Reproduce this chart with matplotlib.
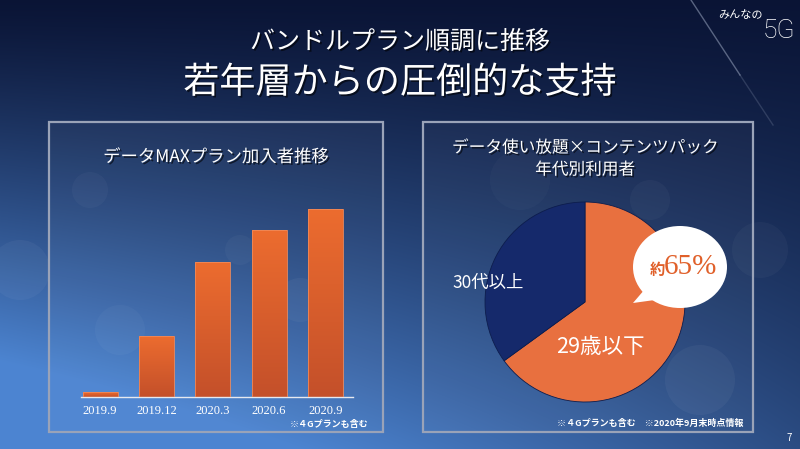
import numpy as np
import matplotlib
matplotlib.use("Agg")
import matplotlib.pyplot as plt
import matplotlib.patheffects as pe
from matplotlib.colors import LinearSegmentedColormap
from matplotlib.patches import Rectangle, Ellipse, Polygon, Circle

plt.rcParams['font.family'] = ['Noto Sans CJK JP', 'DejaVu Sans']

# data
periods = ["2019.9", "2019.12", "2020.3", "2020.6", "2020.9"]
subscribers = [5, 61, 135, 167, 188]          # relative heights, no axis in the source
age_groups = ["29歳以下", "30代以上"]
age_share = [65, 35]

headline1 = "バンドルプラン順調に推移"
headline2 = "若年層からの圧倒的な支持"
bar_title = "データMAXプラン加入者推移"
pie_title1 = "データ使い放題×コンテンツパック"
pie_title2 = "年代別利用者"
note_left = "※４Gプランも含む"
note_right = "※４Gプランも含む　※2020年9月末時点情報"

W, H = 800, 449
fig = plt.figure(figsize=(8, 4.49), dpi=100)

# background in pixel coordinates
bg = fig.add_axes([0, 0, 1, 1])
bg.set_xlim(0, W)
bg.set_ylim(H, 0)
bg.axis('off')

yy, xx = np.mgrid[0:H, 0:W]
t = yy / H
v = np.clip(t ** 1.2 * (0.5 + 0.8 * (1 - xx / W)), 0, 1)
dark = np.array([0.04, 0.08, 0.21])
light = np.array([0.30, 0.52, 0.82])
img = dark + (light - dark) * v[..., None]
bg.imshow(img, extent=[0, W, H, 0], aspect='auto', zorder=0)

# soft bokeh
for cx, cy, r, a in [(20, 270, 30, 0.04), (120, 330, 25, 0.03), (300, 300, 22, 0.04),
                     (240, 250, 15, 0.03), (700, 380, 35, 0.04), (760, 250, 28, 0.03),
                     (90, 190, 18, 0.03), (520, 180, 30, 0.025), (650, 200, 20, 0.03)]:
    bg.add_patch(Circle((cx, cy), r, color='white', alpha=a, lw=0, zorder=1))

# logo
bg.plot([691, 740], [0, 75], color='#8d99b3', lw=1, alpha=0.6, zorder=2)
bg.plot([740, 773], [75, 125], color='#8d99b3', lw=1, alpha=0.25, zorder=2)
bg.text(740, 15, "みんなの", color='white', fontsize=8, ha='center', va='center',
        style='italic', zorder=3)
bg.text(779, 31, "5G", color='white', fontsize=19, ha='center', va='center',
        family=['Roboto', 'DejaVu Sans'], fontweight='light', zorder=3)

shadow = [pe.withSimplePatchShadow(offset=(1.2, -1.2), shadow_rgbFace='black', alpha=0.6)]
bg.text(400, 42, headline1, color='white', fontsize=18, ha='center', va='center',
        path_effects=shadow, zorder=3)
bg.text(400, 83, headline2, color='white', fontsize=26, ha='center', va='center',
        path_effects=shadow, zorder=3)

# panels
for x0, x1 in [(49, 383), (423, 753)]:
    bg.add_patch(Rectangle((x0, 122), x1 - x0, 310, facecolor='white', alpha=0.03,
                           edgecolor='none', zorder=2))
    bg.add_patch(Rectangle((x0, 122), x1 - x0, 310, facecolor='none',
                           edgecolor='#9aa3b8', lw=1.6, zorder=3))

bg.text(216, 157, bar_title, color='white', fontsize=12.5, ha='center', va='center',
        path_effects=shadow, zorder=4)
bg.text(368, 424, note_left, color='white', fontsize=6.5, ha='right', va='center',
        fontweight='bold', zorder=4)

bg.text(585, 148, pie_title1, color='white', fontsize=12, ha='center', va='center',
        path_effects=shadow, zorder=4)
bg.text(585, 170, pie_title2, color='white', fontsize=12, ha='center', va='center',
        path_effects=shadow, zorder=4)
bg.text(743, 423, note_right, color='white', fontsize=6.5, ha='right', va='center',
        fontweight='bold', zorder=4)
bg.text(789, 438, "7", color='white', fontsize=7, ha='center', va='center', zorder=4)

# bar chart
ax = fig.add_axes([81 / W, 1 - 397 / H, 272 / W, 200 / H])
ax.patch.set_alpha(0)
x = np.arange(len(periods))
bars = ax.bar(x, subscribers, width=0.62, color='none', zorder=3)
cmap = LinearSegmentedColormap.from_list('bar', ['#c4502a', '#ec6c2f'])
grad = np.linspace(1, 0, 100)[:, None]
for b in bars:
    x0, w, h = b.get_x(), b.get_width(), b.get_height()
    ax.imshow(grad, extent=[x0, x0 + w, 0, h], aspect='auto', cmap=cmap, zorder=2)
    ax.add_patch(Rectangle((x0, 0), w, h, fill=False, edgecolor='#f08a5a', lw=0.6, zorder=3))
ax.set_xlim(-0.34, 4.49)
ax.set_ylim(0, 200)
ax.set_xticks(x)
ax.set_xticklabels(periods, family=['Liberation Serif', 'DejaVu Serif'], fontsize=9,
                   color='white')
ax.tick_params(axis='x', length=0, pad=6)
ax.set_yticks([])
for s in ['top', 'left', 'right']:
    ax.spines[s].set_visible(False)
ax.spines['bottom'].set_color('#e6e9f0')
ax.spines['bottom'].set_linewidth(1)

# pie chart
pax = fig.add_axes([485 / W, 1 - 402 / H, 200 / W, 200 / H])
pax.pie(age_share, colors=['#e8703f', '#15296b'], startangle=90, counterclock=False,
        wedgeprops=dict(edgecolor='#0d1d4d', linewidth=0.6))
pax.set_xlim(-1, 1)
pax.set_ylim(-1, 1)

# overlay for labels and speech bubble
top = fig.add_axes([0, 0, 1, 1])
top.set_xlim(0, W)
top.set_ylim(H, 0)
top.axis('off')
top.text(600, 347, age_groups[0], color='white', fontsize=15.5, ha='center', va='center')
top.text(488, 283, age_groups[1], color='white', fontsize=12.5, ha='center', va='center')
top.add_patch(Ellipse((680, 267), 94, 82, facecolor='white', edgecolor='none'))
top.add_patch(Polygon([[645, 289], [633, 303], [662, 299]], closed=True,
                      facecolor='white', edgecolor='none'))
top.text(657, 270, "約", color='#e0602a', fontsize=11, ha='center', va='center',
         fontweight='bold')
top.text(690, 267, f"{age_share[0]}%", color='#e0602a', fontsize=21, ha='center',
         va='center', family=['Liberation Serif', 'DejaVu Serif'])

fig.savefig("out.png", dpi=100)
